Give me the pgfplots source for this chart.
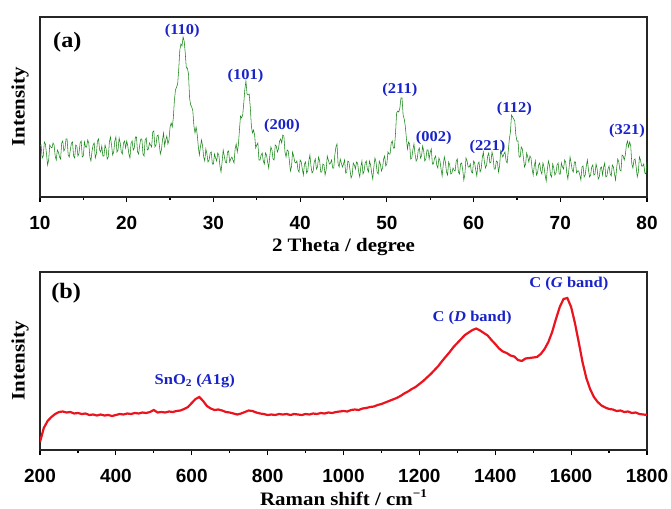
\documentclass[border=0pt]{standalone}
\usepackage{fontspec}
\setmainfont{Liberation Serif}[FakeStretch=1.1]
\newfontfamily\arialf{Liberation Sans}
\usepackage{pgfplots}
\pgfplotsset{compat=1.18}
\definecolor{xrdgreen}{RGB}{25,135,25}
\definecolor{ramanred}{RGB}{235,20,30}
\definecolor{lblblue}{RGB}{25,35,200}

\pgfplotstableread{
x y
10.000 51
10.125 52
10.250 39
10.375 41
10.500 55
10.625 53
10.750 43
10.875 32
11.000 37
11.125 52
11.250 50
11.375 49
11.500 54
11.625 52
11.750 41
11.875 37
12.000 47
12.125 45
12.250 40
12.375 38
12.500 54
12.625 56
12.750 46
12.875 48
13.000 58
13.125 58
13.250 42
13.375 40
13.500 47
13.625 54
13.750 55
13.875 41
14.000 39
14.125 52
14.250 51
14.375 41
14.500 44
14.625 54
14.750 56
14.875 40
15.000 41
15.125 55
15.250 50
15.375 50
15.500 57
15.625 54
15.750 40
15.875 36
16.000 46
16.125 52
16.250 54
16.375 39
16.500 43
16.625 56
16.750 58
16.875 47
17.000 45
17.125 51
17.250 41
17.375 41
17.500 52
17.625 48
17.750 38
17.875 40
18.000 55
18.125 60
18.250 52
18.375 42
18.500 45
18.625 56
18.750 60
18.875 45
19.000 47
19.125 59
19.250 54
19.375 45
19.500 43
19.625 54
19.750 56
19.875 49
20.000 56
20.125 51
20.250 43
20.375 39
20.500 54
20.625 56
20.750 47
20.875 49
21.000 60
21.125 60
21.250 45
21.375 43
21.500 52
21.625 58
21.750 58
21.875 43
22.000 41
22.125 57
22.250 59
22.375 47
22.500 48
22.625 54
22.750 52
22.875 50
23.000 65
23.125 66
23.250 50
23.375 52
23.500 61
23.625 62
23.750 53
23.875 43
24.000 47
24.125 57
24.250 64
24.375 51
24.500 57
24.625 61
24.750 53
24.875 57
25.000 70
25.125 74
25.250 70
25.375 79
25.500 97
25.625 107
25.750 110
25.875 113
26.000 128
26.125 147
26.250 153
26.375 151
26.500 160
26.625 156
26.750 144
26.875 129
27.000 129
27.125 123
27.250 99
27.375 92
27.500 90
27.625 86
27.750 71
27.875 64
28.000 70
28.125 63
28.250 51
28.375 42
28.500 50
28.625 57
28.750 51
28.875 40
29.000 36
29.125 48
29.250 43
29.375 35
29.500 37
29.625 44
29.750 45
29.875 33
30.000 33
30.125 43
30.250 39
30.375 36
30.500 44
30.625 42
30.750 31
30.875 25
31.000 35
31.125 47
31.250 41
31.375 35
31.500 34
31.625 45
31.750 46
31.875 35
32.000 38
32.125 40
32.250 37
32.375 34
32.500 48
32.625 53
32.750 45
32.875 52
33.000 67
33.125 81
33.250 79
33.375 82
33.500 94
33.625 108
33.750 116
33.875 103
34.000 102
34.125 103
34.250 90
34.375 71
34.500 64
34.625 67
34.750 62
34.875 49
35.000 52
35.125 54
35.250 37
35.375 37
35.500 42
35.625 44
35.750 36
35.875 33
36.000 44
36.125 42
36.250 35
36.375 29
36.500 41
36.625 50
36.750 47
36.875 38
37.000 37
37.125 52
37.250 51
37.375 45
37.500 48
37.625 56
37.750 58
37.875 54
38.000 62
38.125 61
38.250 45
38.375 40
38.500 47
38.625 46
38.750 37
38.875 26
39.000 30
39.125 45
39.250 41
39.375 35
39.500 34
39.625 36
39.750 27
39.875 25
40.000 37
40.125 35
40.250 28
40.375 22
40.500 33
40.625 35
40.750 24
40.875 26
41.000 36
41.125 42
41.250 31
41.375 24
41.500 26
41.625 35
41.750 38
41.875 28
42.000 30
42.125 40
42.250 36
42.375 25
42.500 25
42.625 33
42.750 32
42.875 22
43.000 27
43.125 41
43.250 37
43.375 33
43.500 34
43.625 37
43.750 29
43.875 29
44.000 42
44.125 50
44.250 53
44.375 33
44.500 30
44.625 38
44.750 34
44.875 30
45.000 33
45.125 37
45.250 24
45.375 25
45.500 36
45.625 35
45.750 27
45.875 19
46.000 22
46.125 34
46.250 32
46.375 28
46.500 35
46.625 34
46.750 25
46.875 20
47.000 30
47.125 36
47.250 23
47.375 26
47.500 34
47.625 36
47.750 28
47.875 25
48.000 36
48.125 32
48.250 24
48.375 18
48.500 30
48.625 39
48.750 35
48.875 25
49.000 23
49.125 36
49.250 33
49.375 26
49.500 29
49.625 38
49.750 41
49.875 31
50.000 33
50.125 45
50.250 43
50.375 43
50.500 54
50.625 56
50.750 49
50.875 49
51.000 64
51.125 84
51.250 86
51.375 85
51.500 89
51.625 99
51.750 99
51.875 82
52.000 78
52.125 71
52.250 59
52.375 48
52.500 55
52.625 53
52.750 38
52.875 39
53.000 47
53.125 53
53.250 43
53.375 36
53.500 38
53.625 47
53.750 49
53.875 39
54.000 41
54.125 51
54.250 46
54.375 36
54.500 38
54.625 47
54.750 47
54.875 38
55.000 45
55.125 48
55.250 33
55.375 33
55.500 39
55.625 41
55.750 32
55.875 29
56.000 39
56.125 36
56.250 28
56.375 21
56.500 32
56.625 40
56.750 35
56.875 25
57.000 22
57.125 35
57.250 32
57.375 23
57.500 24
57.625 29
57.750 27
57.875 26
58.000 36
58.125 38
58.250 25
58.375 23
58.500 33
58.625 34
58.750 27
58.875 17
59.000 23
59.125 39
59.250 36
59.375 30
59.500 30
59.625 33
59.750 25
59.875 24
60.000 36
60.125 34
60.250 27
60.375 21
60.500 33
60.625 35
60.750 25
60.875 28
61.000 39
61.125 45
61.250 35
61.375 29
61.500 32
61.625 41
61.750 44
61.875 34
62.000 35
62.125 45
62.250 40
62.375 28
62.500 28
62.625 36
62.750 35
62.875 25
63.000 31
63.125 46
63.250 43
63.375 40
63.500 43
63.625 45
63.750 36
63.875 34
64.000 46
64.125 58
64.250 65
64.375 82
64.500 80
64.625 78
64.750 76
64.875 62
65.000 56
65.125 56
65.250 40
65.375 40
65.500 50
65.625 48
65.750 39
65.875 30
66.000 33
66.125 44
66.250 40
66.375 35
66.500 41
66.625 39
66.750 28
66.875 22
67.000 31
67.125 36
67.250 22
67.375 24
67.500 32
67.625 34
67.750 26
67.875 23
68.000 34
68.125 30
68.250 22
68.375 16
68.500 27
68.625 36
68.750 32
68.875 22
69.000 20
69.125 33
69.250 29
69.375 22
69.500 24
69.625 32
69.750 34
69.875 23
70.000 23
70.125 34
70.250 30
70.375 28
70.500 37
70.625 35
70.750 24
70.875 18
71.000 28
71.125 40
71.250 34
71.375 27
71.500 25
71.625 35
71.750 35
71.875 24
72.000 26
72.125 26
72.250 22
72.375 17
72.500 30
72.625 31
72.750 20
72.875 22
73.000 31
73.125 37
73.250 27
73.375 20
73.500 22
73.625 30
73.750 32
73.875 22
74.000 23
74.125 33
74.250 28
74.375 18
74.500 20
74.625 29
74.750 30
74.875 22
75.000 30
75.125 34
75.250 20
75.375 21
75.500 28
75.625 31
75.750 23
75.875 21
76.000 32
76.125 30
76.250 23
76.375 17
76.500 29
76.625 38
76.750 35
76.875 27
77.000 26
77.125 42
77.250 41
77.375 37
77.500 42
77.625 52
77.750 56
77.875 50
78.000 55
78.125 51
78.250 33
78.375 29
78.500 37
78.625 38
78.750 30
78.875 20
79.000 25
79.125 40
79.250 37
79.375 31
79.500 31
79.625 33
79.750 24
79.875 23
80.000 35
}\xrd

\pgfplotstableread{
x y
200 8
210 22
220 29
230 33
240 36
250 38
260 38.5
270 37.5
280 38
290 36.5
300 37
310 36
320 36.5
330 35
340 35.5
350 34.5
360 35.5
370 34.5
380 35
390 34
400 35
410 36
420 35.5
430 36.5
440 36
450 37
460 36.5
470 37.5
480 37
490 38
500 40
510 37.5
520 38
530 37.5
540 38.5
550 38
560 39
570 39.5
580 41
590 43
600 47
610 51
620 53
630 49
640 44
650 41.5
660 40
670 40.5
680 39.5
690 38
700 37.5
710 36.5
720 35.5
730 36.5
740 38
750 39.5
760 39
770 37.5
780 36.5
790 36
800 35
810 35.5
820 35
830 36
840 35.5
850 36
860 35
870 36
880 35.5
890 35
900 36
910 35.5
920 36.5
930 36
940 37
950 36.5
960 37.5
970 37
980 38
990 38.5
1000 39
1010 38.5
1020 40
1030 40.5
1040 40
1050 41.5
1060 42
1070 43
1080 43.5
1090 45
1100 46
1110 47.5
1120 49
1130 50.5
1140 52
1150 54
1160 56.5
1170 58.5
1180 61
1190 63
1200 66
1210 69
1220 72.5
1230 76
1240 80
1250 84
1260 89
1270 93.5
1280 98
1290 103
1300 107
1310 111
1320 115
1330 117.5
1340 120
1350 121.5
1360 119.5
1370 117
1380 114.5
1390 110
1400 106
1410 101.5
1420 98.5
1430 97
1440 94.5
1450 93.5
1460 90
1470 89
1480 91.5
1490 92
1500 92.5
1510 93
1520 96
1530 101
1540 108
1550 118
1560 131
1570 143
1580 151
1590 152
1600 143
1610 127
1620 108
1630 88
1640 72
1650 61
1660 53
1670 48
1680 44.5
1690 42.5
1700 41
1710 40.5
1720 39
1730 39.5
1740 38
1750 38.5
1760 37
1770 37.5
1780 36
1790 35.5
1800 35
}\raman

\pgfplotsset{
  panel/.style={
    scale only axis,
    width=607bp,
    axis line style={line width=1.3bp, black!85},
    tick align=outside,
    xtick pos=lower,
    ytick=\empty,
    major tick length=5bp,
    minor tick length=3bp,
    minor x tick num=1,
    every tick/.style={line width=1.2bp, black},
    /pgf/number format/assume math mode=true,
    /pgf/number format/1000 sep={},
    xticklabel style={font=\arialf\bfseries\fontsize{19bp}{19bp}\selectfont, inner sep=0pt, anchor=north, yshift=-14bp},
    label style={font=\bfseries\fontsize{19bp}{21bp}\selectfont, inner sep=0pt},
    ylabel={Intensity},
    ylabel style={at={(axis description cs:-0.033,0.5)}, anchor=center},
    xlabel style={at={(axis description cs:0.5,0)}, anchor=base},
    clip=true,
  },
}
\tikzset{ann/.style={font=\bfseries\fontsize{15bp}{15bp}\selectfont, text=lblblue, inner sep=0pt}}

\begin{document}
\begin{tikzpicture}
\begin{axis}[panel,
  at={(0bp,0bp)}, anchor=south west,
  height=180bp,
  xmin=10, xmax=80, ymin=0, ymax=180,
  xtick={10,20,...,80},
  xlabel={2 Theta / degree},
  xlabel style={yshift=-54bp},
]
\addplot[xrdgreen, line width=0.55bp] table[x=x,y=y] {\xrd};
\node[font=\bfseries\fontsize{22bp}{22bp}\selectfont, inner sep=0pt] at (rel axis cs:0.045,0.86) {(a)};
\node[ann] at (axis cs:26.4,166) {(110)};
\node[ann] at (axis cs:33.7,121) {(101)};
\node[ann] at (axis cs:37.9,71) {(200)};
\node[ann] at (axis cs:51.5,107) {(211)};
\node[ann] at (axis cs:55.4,59) {(002)};
\node[ann] at (axis cs:61.6,50) {(221)};
\node[ann] at (axis cs:64.7,88) {(112)};
\node[ann] at (axis cs:77.7,66) {(321)};
\end{axis}

\begin{axis}[panel,
  at={(0bp,-253bp)}, anchor=south west,
  height=178bp,
  xmin=200, xmax=1800, ymin=0, ymax=178,
  xtick={200,400,...,1800},
  xlabel={Raman shift / cm\raisebox{0.4em}{\fontsize{12bp}{12bp}\selectfont\textminus1}},
  xlabel style={yshift=-55bp},
]
\addplot[ramanred, line width=2.2bp] table[x=x,y=y] {\raman};
\node[font=\bfseries\fontsize{22bp}{22bp}\selectfont, inner sep=0pt] at (rel axis cs:0.043,0.88) {(b)};
\node[ann] at (axis cs:608,69) {SnO\textsubscript{2} (\textit{A}1g)};
\node[ann] at (axis cs:1339,132) {C (\textit{D} band)};
\node[ann] at (axis cs:1594,166) {C (\textit{G} band)};
\end{axis}
\pgfresetboundingbox
\path[use as bounding box] (-40bp,-312bp) rectangle (631bp,197bp);
\end{tikzpicture}
\end{document}
